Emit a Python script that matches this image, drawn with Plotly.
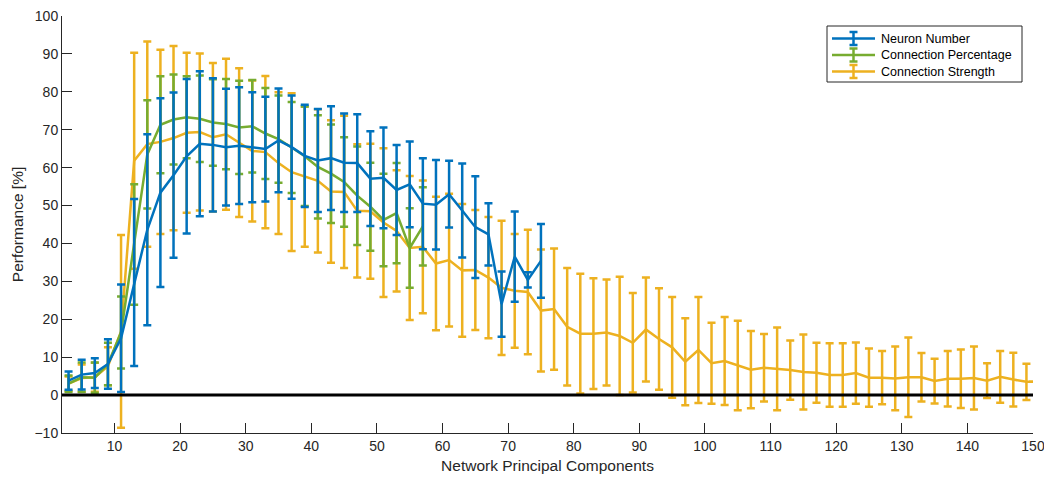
import plotly.graph_objects as go

# ---------------- data ----------------
x_strength = [3, 5, 7, 9, 11, 13, 15, 17, 19, 21, 23, 25, 27, 29, 31, 33, 35, 37, 39, 41,
              43, 45, 47, 49, 51, 53, 55, 57, 59, 61, 63, 65, 67, 69, 71, 73, 75, 77, 79, 81,
              83, 85, 87, 89, 91, 93, 95, 97, 99, 101, 103, 105, 107, 109, 111, 113, 115, 117, 119, 121,
              123, 125, 127, 129, 131, 133, 135, 137, 139, 141, 143, 145, 147, 149, 150]
strength_mean = [3.0, 4.5, 4.7, 7.6, 16.8, 61.8, 66.2, 66.8, 67.8, 69.2, 69.4, 68.0, 68.8, 66.6, 64.4, 64.1, 61.2, 58.8, 57.6, 56.5,
                 53.7, 53.6, 48.6, 48.5, 45.5, 43.3, 38.8, 39.1, 34.7, 35.6, 32.9, 33.0, 31.0, 28.3, 27.5, 27.2, 22.3, 22.7, 18.0, 16.2,
                 16.2, 16.5, 15.6, 13.8, 17.3, 14.8, 12.6, 8.8, 11.9, 8.4, 9.0, 7.8, 6.7, 7.2, 6.9, 6.6, 6.1, 5.9, 5.3, 5.3,
                 5.8, 4.6, 4.6, 4.4, 4.7, 4.7, 3.7, 4.3, 4.3, 4.5, 3.8, 4.8, 4.1, 3.5, 3.5]
strength_err = [1.9, 3.6, 3.8, 5.0, 25.4, 28.5, 27.1, 24.3, 24.3, 21.1, 20.7, 19.6, 19.9, 19.6, 18.6, 20.1, 18.7, 20.8, 18.5, 18.9,
                18.8, 20.1, 17.6, 17.8, 19.6, 16.0, 19.0, 17.5, 17.6, 17.5, 17.5, 15.8, 16.0, 17.7, 15.0, 16.4, 16.1, 16.0, 15.5, 15.8,
                14.6, 14.0, 15.6, 13.1, 13.7, 13.4, 13.3, 11.5, 14.0, 10.7, 11.6, 11.8, 10.2, 8.9, 10.9, 7.8, 9.9, 7.9, 8.4, 8.4,
                8.1, 7.7, 7.0, 8.4, 10.5, 6.4, 5.9, 7.3, 7.7, 8.3, 4.6, 6.8, 7.1, 4.8, None]

x_percentage = [3, 5, 7, 9, 11, 13, 15, 17, 19, 21, 23, 25, 27, 29, 31, 33, 35, 37, 39, 41,
                43, 45, 47, 49, 51, 53, 55, 57]
percentage_mean = [3.0, 4.7, 4.6, 8.2, 16.5, 39.7, 63.5, 71.3, 72.7, 73.3, 72.9, 71.9, 71.5, 70.6, 70.9, 69.0, 67.5, 65.3, 63.0, 60.2,
                   58.4, 56.2, 52.6, 49.7, 46.2, 48.0, 38.8, 44.5]
percentage_err = [2.2, 3.9, 4.0, 5.6, 9.5, 15.9, 14.3, 12.8, 11.9, 10.8, 11.4, 11.4, 11.9, 12.3, 12.2, 12.0, 11.5, 12.0, 13.1, 13.6,
                  13.0, 11.8, 13.0, 11.6, 12.2, 13.2, 10.5, 10.3]

x_neuron = [3, 5, 7, 9, 11, 13, 15, 17, 19, 21, 23, 25, 27, 29, 31, 33, 35, 37, 39, 41,
            43, 45, 47, 49, 51, 53, 55, 57, 59, 61, 63, 65, 67, 69, 71, 73, 75]
neuron_mean = [3.8, 5.4, 5.8, 8.2, 15.0, 29.7, 43.6, 53.4, 58.0, 63.0, 66.3, 66.0, 65.4, 65.8, 65.4, 64.9, 67.2, 65.4, 63.1, 61.9,
               62.5, 61.3, 61.2, 57.1, 57.3, 54.1, 55.6, 50.5, 50.2, 53.0, 48.7, 44.3, 42.4, 24.0, 36.5, 30.4, 35.4]
neuron_err = [2.4, 3.9, 3.9, 6.5, 14.2, 22.0, 25.2, 24.9, 21.8, 20.4, 19.1, 17.6, 15.4, 15.4, 14.5, 13.8, 13.7, 13.6, 13.5, 13.6,
              13.7, 13.0, 12.9, 12.5, 13.3, 11.9, 11.3, 12.0, 11.8, 8.8, 12.4, 13.4, 8.2, 8.6, 11.9, 2.0, 9.7]

series_names = ["Neuron Number", "Connection Percentage", "Connection Strength"]

x_ticks = [10, 20, 30, 40, 50, 60, 70, 80, 90, 100, 110, 120, 130, 140, 150]
y_ticks = [-10, 0, 10, 20, 30, 40, 50, 60, 70, 80, 90, 100]

# ---------------- style ----------------
BLUE = "#0072BD"
GREEN = "#77AC30"
YELLOW = "#EDB120"
AX = "#262626"
FONT = "Liberation Sans, Arial, Helvetica, sans-serif"

W, H = 1044, 477
ML, MR, MT, MB = 62, 11, 16, 44
PW, PH = W - ML - MR, H - MT - MB


def px_x(p):
    return (p - ML) / PW


def px_y(p):
    return 1 - (p - MT) / PH


fig = go.Figure()


def add_series(x, y, e, name, color):
    fig.add_trace(go.Scatter(
        x=x, y=y, name=name, mode="lines", showlegend=False,
        line=dict(color=color, width=2.5),
        error_y=dict(type="data", array=e, visible=True, color=color,
                     thickness=2.5, width=4),
    ))


add_series(x_strength, strength_mean, strength_err, series_names[2], YELLOW)
add_series(x_percentage, percentage_mean, percentage_err, series_names[1], GREEN)
add_series(x_neuron, neuron_mean, neuron_err, series_names[0], BLUE)

# black zero reference line
fig.add_shape(type="line", xref="x", yref="y", x0=2, x1=150, y0=0, y1=0,
              line=dict(color="black", width=3), layer="above")

# ---------------- legend (MATLAB style, with error-bar glyphs) ----------------
shapes = []
annotations = []
shapes.append(dict(type="rect", xref="paper", yref="paper",
                   x0=px_x(827), x1=px_x(1022), y0=px_y(82), y1=px_y(26),
                   line=dict(color=AX, width=1), fillcolor="white", layer="above"))
legend_rows = [38.5, 55.0, 71.5]
for name, color, yc in zip(series_names, [BLUE, GREEN, YELLOW], legend_rows):
    shapes.append(dict(type="line", xref="paper", yref="paper",
                       x0=px_x(832), x1=px_x(875), y0=px_y(yc), y1=px_y(yc),
                       line=dict(color=color, width=2.5), layer="above"))
    shapes.append(dict(type="line", xref="paper", yref="paper",
                       x0=px_x(853.5), x1=px_x(853.5), y0=px_y(yc - 6.5), y1=px_y(yc + 6.5),
                       line=dict(color=color, width=2.5), layer="above"))
    for dy in (-6.5, 6.5):
        shapes.append(dict(type="line", xref="paper", yref="paper",
                           x0=px_x(849.5), x1=px_x(857.5), y0=px_y(yc + dy), y1=px_y(yc + dy),
                           line=dict(color=color, width=2.5), layer="above"))
    annotations.append(dict(xref="paper", yref="paper", x=px_x(879), y=px_y(yc),
                            xanchor="left", yanchor="middle", showarrow=False,
                            text=name, font=dict(family=FONT, size=12.5, color="black")))

for s in shapes:
    fig.add_shape(**s)

axis_common = dict(
    showline=True, linecolor=AX, linewidth=1,
    ticks="inside", ticklen=10, tickwidth=1, tickcolor=AX,
    showgrid=False, zeroline=False, mirror=False, automargin=False,
    ticklabeloverflow="allow",
    tickfont=dict(size=14, color=AX),
)

fig.update_layout(
    width=W, height=H, autosize=False,
    margin=dict(l=ML, r=MR, t=MT, b=MB),
    plot_bgcolor="white", paper_bgcolor="white",
    font=dict(family=FONT, size=14, color=AX),
    xaxis=dict(range=[2, 150], tickvals=x_ticks,
               title=dict(text="Network Principal Components", font=dict(size=15.5, color=AX), standoff=7),
               **axis_common),
    yaxis=dict(range=[-10, 100], tickvals=y_ticks,
               title=dict(text="Performance [%]", font=dict(size=15.5, color=AX), standoff=7),
               **axis_common),
    annotations=annotations,
    showlegend=False,
)

fig.write_html(
    "out.html",
    config={"displayModeBar": False},
    post_script="document.body.style.margin='0';document.body.style.padding='0';document.body.style.overflow='hidden';",
)
